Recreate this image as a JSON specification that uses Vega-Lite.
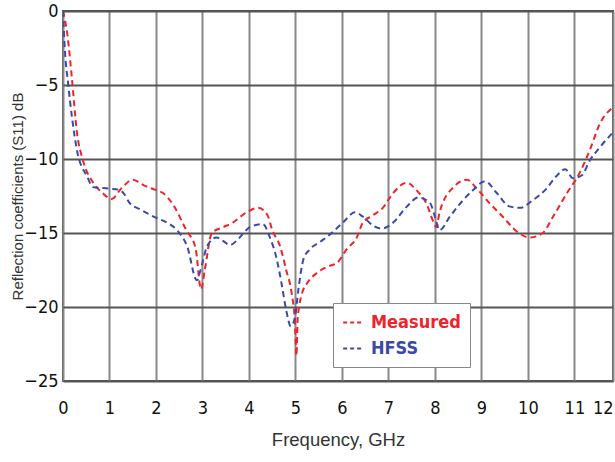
{
  "$schema": "https://vega.github.io/schema/vega-lite/v6.json",
  "width": 550,
  "height": 370,
  "autosize": {"type": "none"},
  "padding": {"left": 63, "top": 11, "right": 2, "bottom": 81},
  "background": "white",
  "config": {
    "view": {"stroke": "#555", "strokeWidth": 2},
    "font": "Liberation Sans"
  },
  "data": {"values": [
    {"f":0,"s11":0,"series":"Measured"},{"f":0.09,"s11":-1.5,"series":"Measured"},{"f":0.19,"s11":-4.5,"series":"Measured"},{"f":0.3,"s11":-8.2,"series":"Measured"},{"f":0.43,"s11":-10.1,"series":"Measured"},{"f":0.65,"s11":-11.6,"series":"Measured"},{"f":0.85,"s11":-12.3,"series":"Measured"},{"f":1.05,"s11":-12.7,"series":"Measured"},{"f":1.25,"s11":-12.0,"series":"Measured"},{"f":1.5,"s11":-11.4,"series":"Measured"},{"f":1.75,"s11":-11.8,"series":"Measured"},{"f":2.0,"s11":-12.1,"series":"Measured"},{"f":2.15,"s11":-12.3,"series":"Measured"},{"f":2.35,"s11":-13.0,"series":"Measured"},{"f":2.65,"s11":-14.8,"series":"Measured"},{"f":2.85,"s11":-16.0,"series":"Measured"},{"f":2.97,"s11":-18.8,"series":"Measured"},{"f":3.05,"s11":-17.5,"series":"Measured"},{"f":3.2,"s11":-15.0,"series":"Measured"},{"f":3.45,"s11":-14.6,"series":"Measured"},{"f":3.65,"s11":-14.3,"series":"Measured"},{"f":3.95,"s11":-13.6,"series":"Measured"},{"f":4.2,"s11":-13.3,"series":"Measured"},{"f":4.4,"s11":-13.8,"series":"Measured"},{"f":4.5,"s11":-14.8,"series":"Measured"},{"f":4.67,"s11":-15.9,"series":"Measured"},{"f":4.8,"s11":-17.5,"series":"Measured"},{"f":4.92,"s11":-19.1,"series":"Measured"},{"f":4.99,"s11":-21.1,"series":"Measured"},{"f":5.02,"s11":-23.3,"series":"Measured"},{"f":5.05,"s11":-20.7,"series":"Measured"},{"f":5.14,"s11":-19.1,"series":"Measured"},{"f":5.25,"s11":-18.4,"series":"Measured"},{"f":5.46,"s11":-17.7,"series":"Measured"},{"f":5.67,"s11":-17.3,"series":"Measured"},{"f":5.9,"s11":-17.0,"series":"Measured"},{"f":6.1,"s11":-16.1,"series":"Measured"},{"f":6.32,"s11":-15.3,"series":"Measured"},{"f":6.45,"s11":-14.3,"series":"Measured"},{"f":6.67,"s11":-13.8,"series":"Measured"},{"f":6.88,"s11":-13.3,"series":"Measured"},{"f":7.1,"s11":-12.3,"series":"Measured"},{"f":7.4,"s11":-11.6,"series":"Measured"},{"f":7.6,"s11":-12.1,"series":"Measured"},{"f":7.83,"s11":-13.1,"series":"Measured"},{"f":7.96,"s11":-14.2,"series":"Measured"},{"f":8.03,"s11":-14.6,"series":"Measured"},{"f":8.1,"s11":-13.6,"series":"Measured"},{"f":8.4,"s11":-11.9,"series":"Measured"},{"f":8.69,"s11":-11.4,"series":"Measured"},{"f":8.9,"s11":-12.0,"series":"Measured"},{"f":9.18,"s11":-13.0,"series":"Measured"},{"f":9.46,"s11":-13.9,"series":"Measured"},{"f":9.76,"s11":-14.9,"series":"Measured"},{"f":10.04,"s11":-15.3,"series":"Measured"},{"f":10.32,"s11":-15.0,"series":"Measured"},{"f":10.54,"s11":-13.9,"series":"Measured"},{"f":10.84,"s11":-12.3,"series":"Measured"},{"f":11.12,"s11":-10.9,"series":"Measured"},{"f":11.33,"s11":-9.4,"series":"Measured"},{"f":11.55,"s11":-7.6,"series":"Measured"},{"f":11.83,"s11":-6.5,"series":"Measured"},
    {"f":0,"s11":0,"series":"HFSS"},{"f":0.04,"s11":-2.6,"series":"HFSS"},{"f":0.11,"s11":-4.9,"series":"HFSS"},{"f":0.19,"s11":-7.1,"series":"HFSS"},{"f":0.3,"s11":-9.4,"series":"HFSS"},{"f":0.52,"s11":-11.2,"series":"HFSS"},{"f":0.65,"s11":-11.9,"series":"HFSS"},{"f":1.0,"s11":-12.0,"series":"HFSS"},{"f":1.23,"s11":-12.1,"series":"HFSS"},{"f":1.3,"s11":-12.3,"series":"HFSS"},{"f":1.44,"s11":-13.0,"series":"HFSS"},{"f":1.66,"s11":-13.4,"series":"HFSS"},{"f":2.02,"s11":-14.0,"series":"HFSS"},{"f":2.24,"s11":-14.3,"series":"HFSS"},{"f":2.45,"s11":-14.8,"series":"HFSS"},{"f":2.67,"s11":-15.9,"series":"HFSS"},{"f":2.88,"s11":-18.2,"series":"HFSS"},{"f":2.95,"s11":-17.6,"series":"HFSS"},{"f":3.1,"s11":-15.9,"series":"HFSS"},{"f":3.3,"s11":-15.3,"series":"HFSS"},{"f":3.6,"s11":-15.8,"series":"HFSS"},{"f":3.8,"s11":-15.3,"series":"HFSS"},{"f":4.02,"s11":-14.6,"series":"HFSS"},{"f":4.3,"s11":-14.4,"series":"HFSS"},{"f":4.45,"s11":-15.3,"series":"HFSS"},{"f":4.6,"s11":-16.8,"series":"HFSS"},{"f":4.7,"s11":-18.4,"series":"HFSS"},{"f":4.8,"s11":-20.2,"series":"HFSS"},{"f":4.9,"s11":-21.3,"series":"HFSS"},{"f":4.99,"s11":-20.7,"series":"HFSS"},{"f":5.06,"s11":-18.9,"series":"HFSS"},{"f":5.17,"s11":-16.8,"series":"HFSS"},{"f":5.31,"s11":-16.1,"series":"HFSS"},{"f":5.53,"s11":-15.6,"series":"HFSS"},{"f":5.74,"s11":-15.1,"series":"HFSS"},{"f":6.02,"s11":-14.3,"series":"HFSS"},{"f":6.28,"s11":-13.6,"series":"HFSS"},{"f":6.45,"s11":-13.9,"series":"HFSS"},{"f":6.67,"s11":-14.5,"series":"HFSS"},{"f":6.86,"s11":-14.7,"series":"HFSS"},{"f":7.1,"s11":-14.3,"series":"HFSS"},{"f":7.4,"s11":-13.2,"series":"HFSS"},{"f":7.64,"s11":-12.6,"series":"HFSS"},{"f":7.9,"s11":-13.0,"series":"HFSS"},{"f":8.0,"s11":-13.9,"series":"HFSS"},{"f":8.1,"s11":-14.8,"series":"HFSS"},{"f":8.32,"s11":-13.9,"series":"HFSS"},{"f":8.6,"s11":-12.8,"series":"HFSS"},{"f":8.82,"s11":-12.1,"series":"HFSS"},{"f":9.08,"s11":-11.5,"series":"HFSS"},{"f":9.33,"s11":-12.3,"series":"HFSS"},{"f":9.6,"s11":-13.2,"series":"HFSS"},{"f":9.83,"s11":-13.3,"series":"HFSS"},{"f":10.1,"s11":-12.8,"series":"HFSS"},{"f":10.4,"s11":-12.0,"series":"HFSS"},{"f":10.6,"s11":-11.2,"series":"HFSS"},{"f":10.8,"s11":-10.7,"series":"HFSS"},{"f":10.97,"s11":-11.3,"series":"HFSS"},{"f":11.16,"s11":-11.1,"series":"HFSS"},{"f":11.33,"s11":-10.1,"series":"HFSS"},{"f":11.55,"s11":-9.2,"series":"HFSS"},{"f":11.83,"s11":-8.2,"series":"HFSS"}
  ]},
  "mark": {"type": "line", "interpolate": "monotone", "strokeWidth": 2, "strokeDash": [6, 4], "clip": true},
  "encoding": {
    "x": {
      "field": "f", "type": "quantitative",
      "scale": {"domain": [0, 11.83], "nice": false, "zero": false},
      "axis": {
        "values": [0,1,2,3,4,5,6,7,8,9,10,11,11.83],
        "labelExpr": "datum.value > 11.5 ? '12' : datum.label",
        "labelAlign": {"condition": {"test": "datum.value > 11.5", "value": "right"}, "value": "center"},
        "title": "Frequency, GHz",
        "titleFont": "Liberation Sans", "titleFontSize": 18.5, "titleFontWeight": "normal", "titleColor": "#333",
        "titlePadding": 13,
        "labelFont": "DejaVu Sans Condensed, Liberation Sans", "labelFontSize": 18, "labelColor": "#111",
        "labelPadding": 18,
        "grid": true, "gridColor": "#888", "gridWidth": 2,
        "domain": false, "ticks": false
      }
    },
    "y": {
      "field": "s11", "type": "quantitative",
      "scale": {"domain": [-25, 0], "nice": false, "zero": false},
      "axis": {
        "values": [-25,-20,-15,-10,-5,0],
        "title": "Reflection coefficients (S11) dB",
        "titleFont": "Liberation Sans", "titleFontSize": 15, "titleFontWeight": "normal", "titleColor": "#333",
        "titlePadding": -2,
        "labelFont": "DejaVu Sans Condensed, Liberation Sans", "labelFontSize": 18, "labelColor": "#111",
        "labelPadding": 5,
        "grid": true, "gridColor": "#555", "gridWidth": 2,
        "domain": false, "ticks": false
      }
    },
    "color": {
      "field": "series", "type": "nominal",
      "scale": {"domain": ["Measured", "HFSS"], "range": ["#f0222a", "#3a4aaa"]},
      "legend": {
        "title": null,
        "orient": "none", "legendX": 270, "legendY": 292,
        "fillColor": "white", "strokeColor": "#888",
        "padding": 9, "rowPadding": 6,
        "symbolType": "stroke", "symbolDash": [4, 3], "symbolStrokeWidth": 2, "symbolSize": 350,
        "labelFont": "DejaVu Sans Condensed, Liberation Sans", "labelFontSize": 18, "labelFontWeight": "bold", "labelOffset": 8,
        "encode": {"labels": {"update": {"fill": {"signal": "datum.value === 'Measured' ? '#f0222a' : '#3a4aaa'"}}}}
      }
    }
  }
}
